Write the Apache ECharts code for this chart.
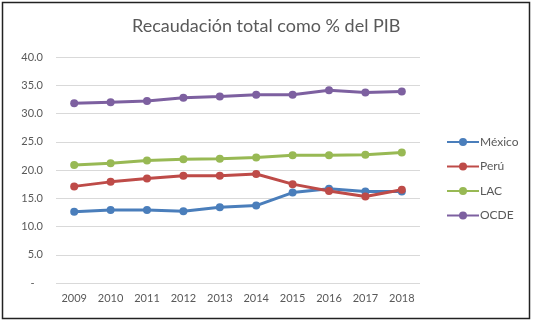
<!DOCTYPE html>
<html><head><meta charset="utf-8">
<script src="https://cdn.jsdelivr.net/npm/echarts@6/dist/echarts.min.js"></script>
<style>html,body{margin:0;padding:0;background:#fff}#c{width:533px;height:323px}</style>
</head><body><div id="c"></div>
<script>
const years = ['2009','2010','2011','2012','2013','2014','2015','2016','2017','2018'];
const mexico = [12.6, 12.9, 12.9, 12.7, 13.4, 13.7, 16.0, 16.7, 16.2, 16.2];
const peru   = [17.1, 17.9, 18.5, 19.0, 19.0, 19.3, 17.5, 16.3, 15.3, 16.5];
const lac    = [20.9, 21.2, 21.7, 21.9, 22.0, 22.2, 22.6, 22.6, 22.7, 23.1];
const ocde   = [31.8, 32.0, 32.2, 32.8, 33.0, 33.3, 33.3, 34.1, 33.7, 33.9];
const seriesNames = ['México','Perú','LAC','OCDE'];
const colors = ['#4a7ebb','#be4b48','#98b954','#7d60a0'];
const font = 'Lato, "Open Sans", sans-serif';
const chart = echarts.init(document.getElementById('c'));
const data = [mexico, peru, lac, ocde];
chart.setOption({
  animation: false,
  textStyle: {fontFamily: font},
  title: {text: 'Recaudación total como % del PIB', left: 127, top: 12,
    textStyle: {fontFamily: font, fontSize: 18, fontWeight: 'normal', color: '#595959'}},
  graphic: [{type: 'rect', shape: {x: 2.5, y: 2.5, width: 527, height: 316},
    style: {fill: 'none', stroke: '#222', lineWidth: 1.5}, silent: true}],
  legend: {orient: 'vertical', left: 441, top: 131, itemGap: 12.5, itemWidth: 32, itemHeight: 10,
    textStyle: {fontFamily: font, fontSize: 12, color: '#595959', padding: [0,0,0,-4]},
    data: seriesNames},
  grid: {left: 56, right: 113, top: 57, bottom: 40},
  xAxis: {type: 'category', data: years, boundaryGap: true,
    axisLine: {show: false}, axisTick: {show: false},
    axisLabel: {color: '#595959', fontSize: 11, margin: 10, fontFamily: font}},
  yAxis: {type: 'value', min: 0, max: 40, interval: 5,
    axisLine: {show: false}, axisTick: {show: false},
    splitLine: {lineStyle: {color: '#d9d9d9', width: 1}},
    axisLabel: {color: '#595959', fontSize: 11, margin: 13, fontFamily: font,
      formatter: v => v === 0 ? '-   ' : v.toFixed(1)}},
  series: seriesNames.map((n, i) => ({
    name: n, type: 'line', data: data[i], symbol: 'circle', symbolSize: 8,
    itemStyle: {color: colors[i]}, lineStyle: {color: colors[i], width: 3}
  }))
});
</script></body></html>
